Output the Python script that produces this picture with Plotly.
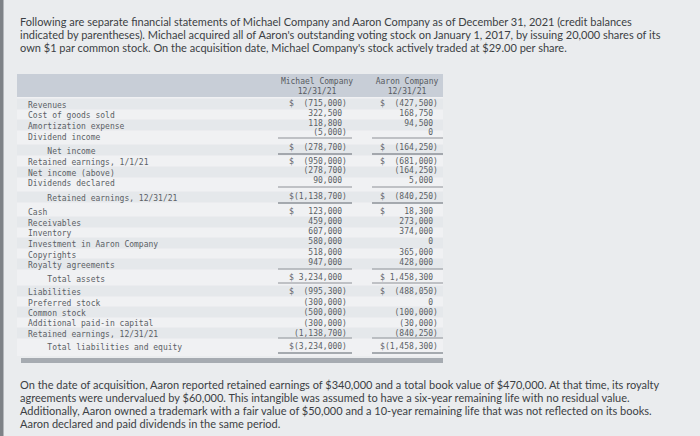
import plotly.graph_objects as go

# statement data
labels = ["Revenues", "Cost of goods sold", "Amortization expense", "Dividend income",
          "Net income", "Retained earnings, 1/1/21", "Net income (above)", "Dividends declared",
          "Retained earnings, 12/31/21", "Cash", "Receivables", "Inventory",
          "Investment in Aaron Company", "Copyrights", "Royalty agreements", "Total assets",
          "Liabilities", "Preferred stock", "Common stock", "Additional paid-in capital",
          "Retained earnings, 12/31/21", "Total liabilities and equity"]
michael = [-715000, 322500, 118800, -5000, -278700, -950000, -278700, 90000, -1138700,
           123000, 459000, 607000, 580000, 518000, 947000, 3234000,
           -995300, -300000, -500000, -300000, -1138700, -3234000]
aaron = [-427500, 168750, 94500, 0, -164250, -681000, -164250, 5000, -840250,
         18300, 273000, 374000, 0, 365000, 428000, 1458300,
         -488050, 0, -100000, -30000, -840250, -1458300]
dollar_rows = [0, 4, 5, 8, 9, 15, 16, 21]
headers = [["Michael Company", "12/31/21"], ["Aaron Company", "12/31/21"]]

intro = ["Following are separate financial statements of Michael Company and Aaron Company as of December 31, 2021 (credit balances",
         "indicated by parentheses). Michael acquired all of Aaron's outstanding voting stock on January 1, 2017, by issuing 20,000 shares of its",
         "own $1 par common stock. On the acquisition date, Michael Company's stock actively traded at $29.00 per share."]
outro = ["On the date of acquisition, Aaron reported retained earnings of $340,000 and a total book value of $470,000. At that time, its royalty",
         "agreements were undervalued by $60,000. This intangible was assumed to have a six-year remaining life with no residual value.",
         "Additionally, Aaron owned a trademark with a fair value of $50,000 and a 10-year remaining life that was not reflected on its books.",
         "Aaron declared and paid dividends in the same period."]

# layout (pixel coordinates)
row_y = [104, 114, 125, 136, 150, 161, 172, 182, 197, 211, 222, 232, 243, 254, 264, 278,
         291, 302, 312, 322, 333, 346]
value_y = [102, 112, 122, 131, 146, 160, 169, 179, 195, 210, 220, 230, 240, 251, 261, 276,
           290, 301, 311, 322, 332, 345]
indent = [0, 0, 0, 0, 4, 0, 0, 0, 4, 0, 0, 0, 0, 0, 0, 4, 0, 0, 0, 0, 0, 4]
rules_y = [138, 154, 187, 203, 269, 283, 338, 353]
TEXT_DY = 1.5  # plotly centres text slightly above its anchor
NB = "\u00a0"
MONO = "DejaVu Sans Mono"
TXT = "#5b5f65"


def fmt(v, dollar):
    s = "({:,})".format(-v) if v < 0 else "{:,}".format(v) + NB
    return ("$" if dollar else NB) + s.rjust(11, NB)


fig = go.Figure()

# background stripes for the table rows
fig.add_shape(type="rect", x0=17, x1=443, y0=97, y1=356, fillcolor="#f0f1f3", line_width=0, layer="below")
for i, y in enumerate(row_y):
    if i % 2 == 0:
        fig.add_shape(type="rect", x0=17, x1=443, y0=y - 5.5, y1=y + 5.5,
                      fillcolor="#e5e8eb", line_width=0, layer="below")
fig.add_shape(type="rect", x0=17, x1=443, y0=74, y1=97, fillcolor="#c8ced7", line_width=0, layer="below")
fig.add_shape(type="rect", x0=21, x1=443, y0=358, y1=363, fillcolor="#a6abb1", line_width=0)
fig.add_shape(type="rect", x0=0, x1=3.5, y0=0, y1=436, fillcolor="#7e8287", line_width=0)
for ry in rules_y:
    w = 1.6 if ry in (154, 203, 353) else 1.1
    for x0, x1 in [(278, 352), (372, 443)]:
        fig.add_shape(type="line", x0=x0, x1=x1, y0=ry, y1=ry, line=dict(color="#8d9298", width=w))

label_txt = [(NB * n + s).ljust(34, NB) for s, n in zip(labels, indent)]
fig.add_trace(go.Scatter(x=[28 + 17 * 4.82] * len(labels), y=[y + TEXT_DY for y in row_y],
                         text=label_txt, mode="text",
                         textfont=dict(family=MONO, size=8, color=TXT), hoverinfo="skip"))
for cx, vals in [(318, michael), (409, aaron)]:
    fig.add_trace(go.Scatter(x=[cx] * len(vals), y=[y + TEXT_DY for y in value_y],
                             text=[fmt(v, i in dollar_rows) for i, v in enumerate(vals)],
                             mode="text", textfont=dict(family=MONO, size=8, color=TXT),
                             hoverinfo="skip"))
    hx = cx - 1 if cx == 318 else cx - 2
    fig.add_trace(go.Scatter(x=[hx, hx], y=[80 + TEXT_DY, 90 + TEXT_DY],
                             text=headers[0 if cx == 318 else 1],
                             mode="text", textfont=dict(family=MONO, size=8, color="#575b61"),
                             hoverinfo="skip"))

for lines, ys in [(intro, [21, 34, 47]), (outro, [384, 397, 410, 423])]:
    for t, y in zip(lines, ys):
        fig.add_annotation(x=18, y=y, text=t, showarrow=False, xanchor="left", yanchor="middle",
                           font=dict(family="Lato", size=11, color="#3c3f44"))

fig.update_xaxes(range=[0, 700], visible=False, fixedrange=True)
fig.update_yaxes(range=[436, 0], visible=False, fixedrange=True)
fig.update_layout(width=700, height=436, margin=dict(l=0, r=0, t=0, b=0),
                  paper_bgcolor="#eaecee", plot_bgcolor="#eaecee", showlegend=False)
fig.write_html("out.html", config={"displayModeBar": False},
               post_script="document.body.style.margin='0';document.body.style.overflow='hidden';")
